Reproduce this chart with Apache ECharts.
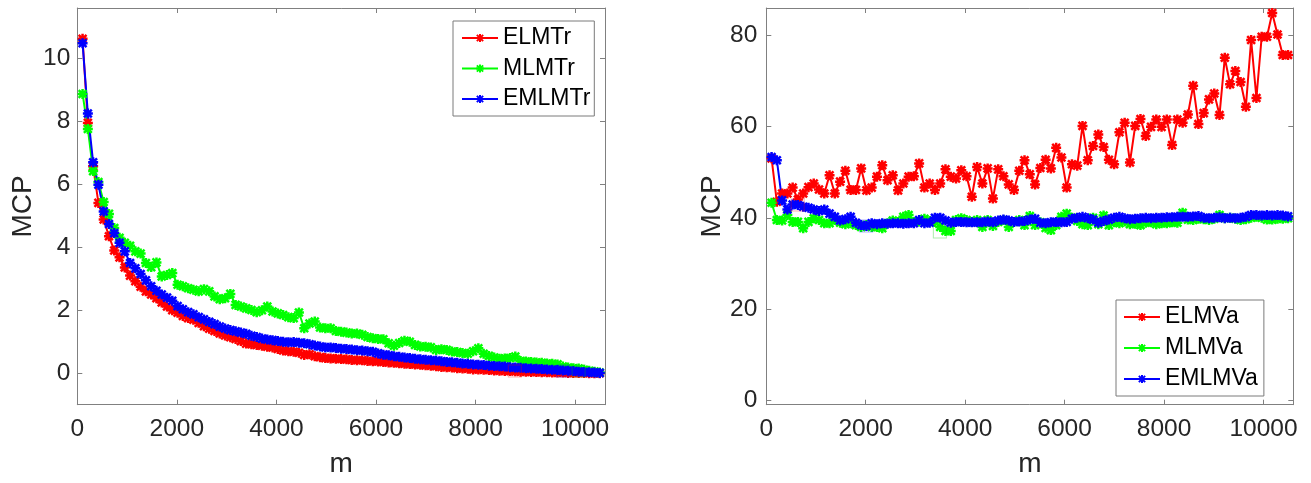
<!DOCTYPE html>
<html>
<head>
<meta charset="utf-8">
<script src="https://cdn.jsdelivr.net/npm/echarts@6/dist/echarts.min.js"></script>
<style>
html,body{margin:0;padding:0;background:#fff;}
#chart{width:1311px;height:483px;}
</style>
</head>
<body>
<div id="chart"></div>
<script>
// ---- data ----
const mValues = [
106,212,318,424,530,636,742,848,954,1060,
1166,1272,1378,1484,1590,1696,1802,1908,2014,2120,
2226,2332,2438,2544,2650,2756,2862,2968,3074,3180,
3286,3392,3498,3604,3710,3816,3922,4028,4134,4240,
4346,4452,4558,4664,4770,4876,4982,5088,5194,5300,
5406,5512,5618,5724,5830,5936,6042,6148,6254,6360,
6466,6572,6678,6784,6890,6996,7102,7208,7314,7420,
7526,7632,7738,7844,7950,8056,8162,8268,8374,8480,
8586,8692,8798,8904,9010,9116,9222,9328,9434,9540,
9646,9752,9858,9964,10070,10176,10282,10388,10494];

const trNames = ['ELMTr','MLMTr','EMLMTr'];
const vaNames = ['ELMVa','MLMVa','EMLMVa'];

const elmTr = [
10.62,7.95,6.57,5.41,4.88,4.35,3.90,3.68,3.36,3.10,
2.92,2.75,2.60,2.50,2.38,2.25,2.12,2.00,1.92,1.82,
1.75,1.70,1.60,1.49,1.41,1.34,1.26,1.20,1.14,1.09,
1.02,0.94,0.92,0.90,0.87,0.84,0.82,0.77,0.72,0.70,
0.68,0.65,0.58,0.60,0.54,0.51,0.48,0.47,0.46,0.45,
0.44,0.42,0.41,0.41,0.39,0.38,0.37,0.36,0.34,0.33,
0.32,0.30,0.29,0.28,0.27,0.25,0.24,0.22,0.20,0.19,
0.18,0.16,0.15,0.14,0.12,0.12,0.11,0.10,0.09,0.08,
0.07,0.07,0.06,0.05,0.05,0.04,0.04,0.03,0.03,0.02,
0.02,0.02,0.01,0.01,0.01,0.01,0.00,0.00,0.00];

const mlmTr = [
8.87,7.76,6.42,6.07,5.44,5.06,4.61,4.30,4.14,4.05,
3.87,3.80,3.50,3.37,3.52,3.07,3.12,3.18,2.81,2.76,
2.70,2.65,2.60,2.67,2.60,2.44,2.35,2.38,2.52,2.17,
2.12,2.06,2.01,1.94,2.00,2.12,1.96,1.90,1.85,1.78,
1.75,1.93,1.43,1.58,1.64,1.45,1.43,1.43,1.34,1.32,
1.29,1.26,1.26,1.22,1.15,1.11,1.09,1.08,0.95,0.87,
0.96,1.03,1.00,0.90,0.85,0.84,0.82,0.74,0.76,0.74,
0.69,0.67,0.64,0.62,0.70,0.79,0.62,0.55,0.50,0.46,
0.47,0.48,0.53,0.39,0.37,0.36,0.34,0.33,0.31,0.30,
0.28,0.21,0.18,0.16,0.15,0.11,0.08,0.05,0.02];

const emlmTr = [
10.48,8.25,6.70,5.99,5.14,4.74,4.45,4.14,3.87,3.50,
3.33,3.15,2.95,2.76,2.62,2.50,2.40,2.30,2.13,2.03,
1.94,1.87,1.78,1.71,1.63,1.56,1.48,1.42,1.37,1.33,
1.29,1.25,1.19,1.15,1.10,1.07,1.05,1.02,1.00,0.98,
0.99,0.97,0.95,0.92,0.88,0.85,0.82,0.82,0.80,0.78,
0.77,0.75,0.73,0.72,0.70,0.68,0.63,0.59,0.57,0.54,
0.52,0.50,0.48,0.46,0.44,0.43,0.41,0.40,0.38,0.36,
0.35,0.33,0.31,0.30,0.28,0.27,0.26,0.24,0.23,0.22,
0.21,0.19,0.18,0.17,0.16,0.15,0.14,0.13,0.12,0.11,
0.10,0.09,0.08,0.07,0.05,0.04,0.03,0.02,0.01];

const elmVa = [
53.0,43.5,45.3,45.3,46.6,44.0,45.3,46.7,47.5,46.2,
45.3,49.3,45.3,47.9,50.3,46.1,46.1,50.8,46.0,46.6,
49.0,51.5,48.2,49.3,46.0,47.5,49.0,49.1,51.9,46.6,
47.5,46.1,47.5,50.6,49.0,48.6,50.4,49.1,44.6,51.1,
47.5,50.8,44.2,50.6,49.1,47.3,46.1,50.3,52.6,49.5,
47.3,50.9,52.7,50.8,55.3,53.2,46.6,51.7,51.4,60.1,
52.6,55.7,58.2,55.5,52.7,51.7,58.7,60.8,52.1,60.1,
61.6,57.9,59.9,61.5,59.9,61.5,55.9,61.5,60.8,62.6,
68.9,60.5,62.9,65.9,67.2,62.5,75.0,69.2,72.1,69.7,
64.3,78.9,66.2,79.6,79.6,84.8,80.1,75.6,75.6];

const mlmVa = [
43.3,39.5,39.4,40.6,39.1,39.1,37.7,39.1,39.9,39.5,
38.8,38.8,39.5,38.9,38.6,38.8,38.4,38.0,38.4,38.0,
38.0,37.7,38.8,39.4,39.1,40.2,40.6,39.1,39.2,39.8,
39.3,39.1,38.0,37.1,37.1,39.5,39.9,39.5,39.1,39.5,
38.0,39.5,38.2,39.1,39.5,38.0,39.1,39.5,38.4,40.4,
38.4,39.0,37.8,37.3,38.4,40.2,40.9,40.0,39.3,38.6,
38.4,40.0,38.6,40.5,38.4,39.0,38.8,39.2,38.6,38.7,
38.4,38.9,39.0,38.6,38.8,38.8,39.0,38.9,41.1,39.6,
39.5,39.8,39.7,39.5,39.8,40.6,39.9,40.0,39.8,39.5,
39.7,40.0,40.2,40.0,39.6,39.6,39.8,39.8,39.9];

const emlmVa = [
53.3,52.6,43.8,41.8,42.9,42.8,42.4,42.2,41.8,41.5,
41.8,40.9,40.2,39.4,39.7,40.2,38.9,38.4,38.2,38.8,
38.6,38.8,38.7,38.8,38.8,38.7,38.8,38.8,39.5,38.8,
38.9,40.0,40.0,39.4,38.9,39.1,39.1,39.0,39.0,39.0,
39.0,39.2,39.0,39.4,39.6,39.4,39.1,39.2,39.3,39.6,
39.8,38.9,38.8,39.0,39.1,39.0,39.1,39.8,40.0,40.2,
39.9,39.6,38.9,39.3,39.6,40.0,40.2,39.9,39.7,39.8,
39.9,40.0,39.9,40.0,40.0,40.1,40.1,40.2,40.2,40.2,
40.3,40.4,40.0,39.9,40.0,40.1,39.9,40.0,39.9,40.0,
40.2,40.6,40.6,40.5,40.6,40.5,40.6,40.5,40.3];

// faint square annotations (one per series) [m, value]
const trBoxes = [[8789,0.07],[10070,0.07],[9753,0.07]];
const vaBoxes = [[631,42.8],[3491,36.9],[2010,38.2]];

const xTicks = [0,2000,4000,6000,8000,10000];
const yTicksTr = [0,2,4,6,8,10];
const yTicksVa = [0,20,40,60,80];

// ---- styling ----
const colors = ['#ff0000','#00ff00','#0000ff'];
const boxColors = ['rgba(255,0,0,0.4)','rgba(0,200,0,0.4)','rgba(0,0,255,0.4)'];
const FONT = 'Liberation Sans, Arial, Helvetica, sans-serif';
const axisGray = '#808080';
const labelColor = '#262626';
const star = 'path://M7.5 0L12.5 0L12.5 20L7.5 20Z M0 7.5L20 7.5L20 12.5L0 12.5Z M3.9 0.4L19.6 16.1L16.1 19.6L0.4 3.9Z M16.1 0.4L19.6 3.9L3.9 19.6L0.4 16.1Z';
const plain = v => String(v);

function mainX(gi, ticks){
  return {type:'value', gridIndex:gi, min:0, max:10600, position:'bottom',
    name:'m', nameLocation:'middle', nameGap:46,
    nameTextStyle:{fontSize:28, color:labelColor, fontFamily:FONT},
    axisLine:{show:true, onZero:false, lineStyle:{color:axisGray, width:1}},
    axisTick:{show:true, inside:true, length:5, customValues:ticks, lineStyle:{color:axisGray}},
    axisLabel:{show:true, customValues:ticks, formatter:plain, margin:12, fontSize:24.5, color:labelColor, fontFamily:FONT},
    splitLine:{show:false}};
}
function topX(gi, ticks){
  return {type:'value', gridIndex:gi, min:0, max:10600, position:'top',
    axisLine:{show:true, onZero:false, lineStyle:{color:axisGray, width:1}},
    axisTick:{show:true, inside:true, length:5, customValues:ticks, lineStyle:{color:axisGray}},
    axisLabel:{show:false}, splitLine:{show:false}};
}
function mainY(gi, min, max, ticks, margin){
  return {type:'value', gridIndex:gi, min:min, max:max, position:'left',
    name:'MCP', nameLocation:'middle', nameGap:40,
    nameTextStyle:{fontSize:28, color:labelColor, fontFamily:FONT},
    axisLine:{show:true, onZero:false, lineStyle:{color:axisGray, width:1}},
    axisTick:{show:true, inside:true, length:5, customValues:ticks, lineStyle:{color:axisGray}},
    axisLabel:{show:true, customValues:ticks, formatter:plain, margin:margin, fontSize:24.5, color:labelColor, fontFamily:FONT},
    splitLine:{show:false}};
}
function rightY(gi, min, max, ticks){
  return {type:'value', gridIndex:gi, min:min, max:max, position:'right',
    axisLine:{show:true, onZero:false, lineStyle:{color:axisGray, width:1}},
    axisTick:{show:true, inside:true, length:5, customValues:ticks, lineStyle:{color:axisGray}},
    axisLabel:{show:false}, splitLine:{show:false}};
}

function lineSeries(name, vals, xi, yi, color){
  return {type:'line', name:name, xAxisIndex:xi, yAxisIndex:yi,
    data: mValues.map((m,i)=>[m, vals[i]]),
    symbol: star, symbolSize: 10, showSymbol:true, showAllSymbol:true,
    itemStyle:{color:color},
    lineStyle:{color:color, width:2},
    emphasis:{disabled:true}, z:3};
}
function boxSeries(pt, xi, yi, color){
  return {type:'scatter', xAxisIndex:xi, yAxisIndex:yi, data:[pt],
    symbol:'rect', symbolSize:[13,12],
    itemStyle:{color:'rgba(0,0,0,0)', borderColor:color, borderWidth:1},
    silent:true, z:4};
}

const series = [];
const trVals = [elmTr, mlmTr, emlmTr];
const vaVals = [elmVa, mlmVa, emlmVa];
for (let i=0;i<3;i++) series.push(lineSeries(trNames[i], trVals[i], 0, 0, colors[i]));
for (let i=0;i<3;i++) series.push(lineSeries(vaNames[i], vaVals[i], 2, 2, colors[i]));
for (let i=0;i<3;i++) series.push(boxSeries(trBoxes[i], 0, 0, boxColors[i]));
for (let i=0;i<3;i++) series.push(boxSeries(vaBoxes[i], 2, 2, boxColors[i]));

function legendCfg(names, left, top, padding, gap){
  return {data:names, orient:'vertical', left:left, top:top, padding:padding,
    itemWidth:36, itemHeight:10, itemGap:gap,
    backgroundColor:'#ffffff', borderColor:'#7a7a7a', borderWidth:1, borderRadius:0,
    textStyle:{fontSize:23, lineHeight:27, color:'#000', fontFamily:FONT},
    selectedMode:false};
}

const chart = echarts.init(document.getElementById('chart'), null, {renderer:'canvas'});
chart.setOption({
  animation:false,
  backgroundColor:'#ffffff',
  textStyle:{fontFamily:FONT},
  grid:[
    {left:77.3, top:8, width:527.7, height:396.7, outerBoundsMode:'none', containLabel:false},
    {left:766.3, top:8, width:527, height:396.7, outerBoundsMode:'none', containLabel:false}
  ],
  xAxis:[mainX(0,xTicks), topX(0,xTicks), mainX(1,xTicks), topX(1,xTicks)],
  yAxis:[mainY(0,-1,11.6,yTicksTr,7), rightY(0,-1,11.6,yTicksTr), mainY(1,-0.9,85.9,yTicksVa,9), rightY(1,-0.9,85.9,yTicksVa)],
  legend:[
    legendCfg(trNames, 453, 21, [3.5,4,3.5,8], 3.5),
    legendCfg(vaNames, 1116, 300, [3.5,6,3.5,7], 4)
  ],
  series:series
});
</script>
</body>
</html>
